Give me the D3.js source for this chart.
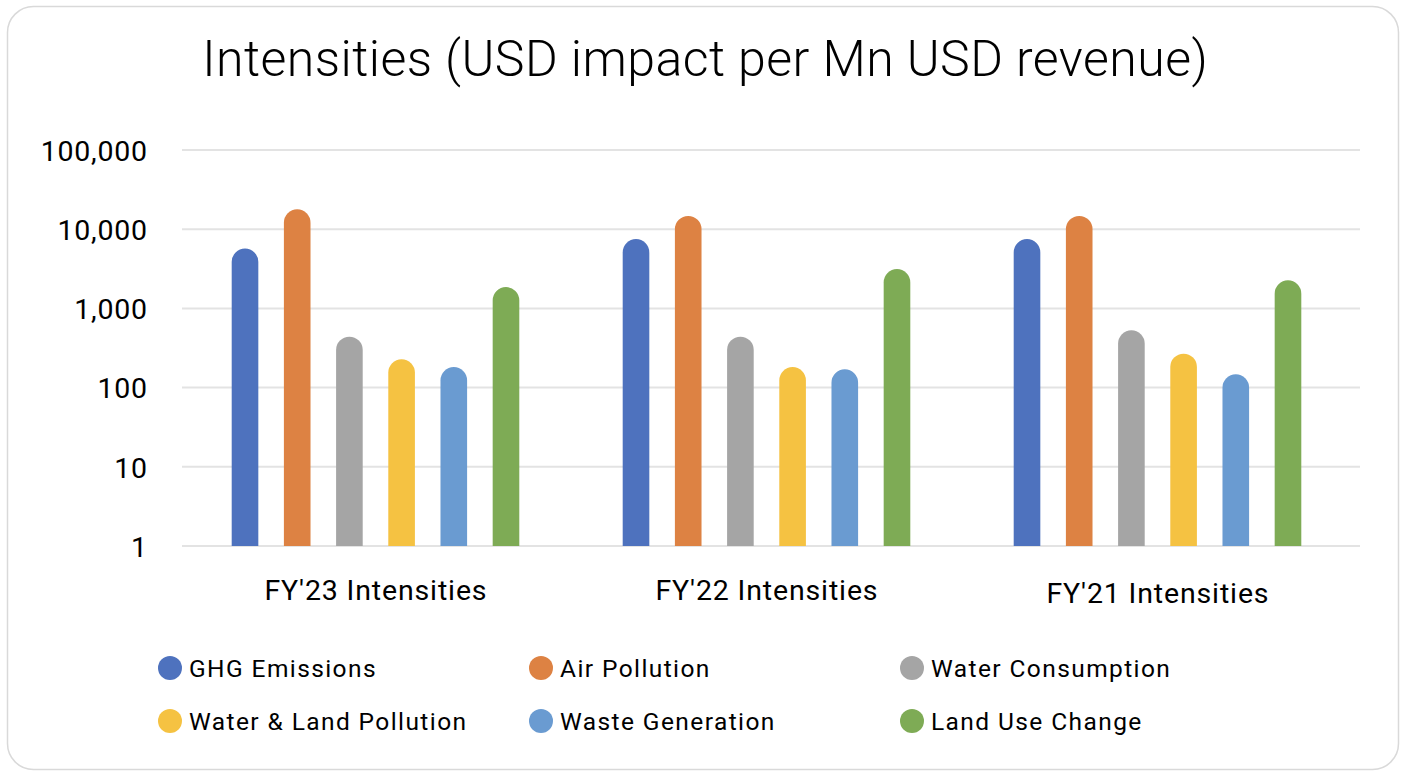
<!DOCTYPE html>
<html><head><meta charset="utf-8">
<script src="https://cdn.jsdelivr.net/npm/d3@7"></script>
<style>body{margin:0;background:#fff}svg{display:block}text{font-family:Roboto,"Noto Sans",sans-serif;fill:#000}</style>
</head><body><svg id="c" width="1405" height="774"></svg>
<script>
const categories = ["FY'23 Intensities","FY'22 Intensities","FY'21 Intensities"];
const seriesNames = ["GHG Emissions","Air Pollution","Water Consumption","Water & Land Pollution","Waste Generation","Land Use Change"];
const ghg = [5700, 7500, 7500];
const air = [17800, 14700, 14700];
const water = [440, 440, 530];
const waterLand = [228, 182, 268];
const waste = [182, 170, 147];
const landUse = [1860, 3140, 2260];
const colors = ["#4e72be","#dd8243","#a5a5a5","#f5c242","#6a9bd1","#7eab55"];
const yTicks = [1,10,100,1000,10000,100000];
const title = "Intensities (USD impact per Mn USD revenue)";

const values = [ghg, air, water, waterLand, waste, landUse];
const svg = d3.select("#c");
svg.append("rect").attr("x",7.5).attr("y",6.5).attr("width",1391).attr("height",763).attr("rx",26).attr("fill","#fff").attr("stroke","#d9d9d9").attr("stroke-width",1.5);

function spread(sel, w){ sel.each(function(){ const n=this; const len=n.getNumberOfChars(); const cw=n.getComputedTextLength(); const ls=(w-cw)/len; d3.select(n).attr("letter-spacing", ls).attr("dx", ls/2); }); }

const t = svg.append("text").attr("x",705).attr("y",76).attr("text-anchor","middle").attr("font-size",50).attr("font-weight",300).text(title);
spread(t,1006);

const y = d3.scaleLog().domain([1,100000]).range([546,150]);
const x0 = d3.scaleBand().domain(categories).range([180,1353]);
const x1 = d3.scaleBand().domain(seriesNames).range([51.7, x0.bandwidth()-51.7]).paddingInner(0.49).paddingOuter(0);

svg.append("g").selectAll("line").data(yTicks).join("line")
 .attr("x1",182).attr("x2",1360).attr("y1",d=>y(d)).attr("y2",d=>y(d))
 .attr("stroke","#e3e3e3").attr("stroke-width",2);

const yAxis = d3.axisLeft(y).tickValues(yTicks).tickFormat(d3.format(",")).tickSize(0).tickPadding(0);
const ga = svg.append("g").attr("transform","translate(147,0)").call(yAxis);
ga.select(".domain").remove();
ga.selectAll("text").attr("font-size",28.5).attr("font-family","'Open Sans',sans-serif").attr("fill","#000").attr("dy","0.36em");
const n100k = ga.selectAll("text").filter(d=>d===100000).node();
const lsY = (107 - n100k.getComputedTextLength())/n100k.getNumberOfChars();
ga.selectAll("text").attr("letter-spacing",lsY).attr("dx",lsY);

const bw = x1.bandwidth(), r = bw/2;
const data = [];
categories.forEach((c,i)=>seriesNames.forEach((s,j)=>data.push({c,s,v:values[j][i],col:colors[j]})));
svg.append("g").selectAll("path").data(data).join("path")
 .attr("fill",d=>d.col)
 .attr("d",d=>{
   const xl = x0(d.c)+x1(d.s), yt=y(d.v), yb=y(1);
   return `M${xl},${yb}V${yt+r}A${r},${r} 0 0 1 ${xl+bw},${yt+r}V${yb}Z`;
 });

const xAxis = d3.axisBottom(x0).tickSize(0).tickPadding(0);
const gx = svg.append("g").attr("transform","translate(0,546)").call(xAxis);
gx.select(".domain").remove();
gx.selectAll("text").attr("font-size",28.5).attr("font-family","Roboto,'Noto Sans',sans-serif").attr("fill","#000").attr("dy",null).attr("y",d=>d==="FY'21 Intensities"?57:54);
gx.selectAll("text").call(s=>spread(s,223));

const legX=[170,541,912], legY=[668,721];
const lg = svg.append("g").selectAll("g").data(seriesNames).join("g")
 .attr("transform",(d,i)=>`translate(${legX[i%3]},${legY[Math.floor(i/3)]})`);
lg.append("circle").attr("r",12).attr("fill",(d,i)=>colors[i]);
const lt = lg.append("text").attr("x",19).attr("dy","0.36em").attr("font-size",24.5).text(d=>d);
const n0 = lt.filter(d=>d==="GHG Emissions").node();
const ls = (188 - n0.getComputedTextLength())/n0.getNumberOfChars();
lt.attr("letter-spacing",ls);
</script></body></html>
